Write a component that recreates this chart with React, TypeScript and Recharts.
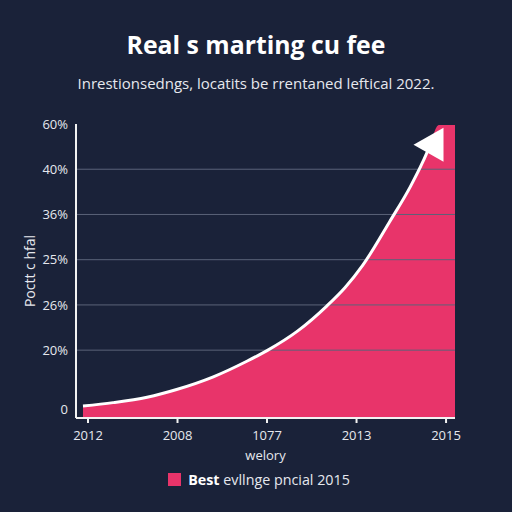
import React from 'react';
import { ComposedChart, Area, Line, XAxis, YAxis, ReferenceLine, ReferenceDot, Label } from 'recharts';

const xValues = [-0.056, 0.28, 0.66, 0.99, 1.4, 1.78, 2.0, 2.34, 2.67, 2.87, 3.07, 3.37, 3.6, 3.74, 3.8, 3.92, 4.1];
const areaValues = [2.65, 3.4, 4.6, 6.3, 9.1, 12.6, 14.9, 19.2, 24.8, 28.8, 33.8, 43.4, 51.1, 56.6, 59.3, 64.8, 64.8];
const lineValues = [2.65, 3.4, 4.6, 6.3, 9.1, 12.6, 14.9, 19.2, 24.8, 28.8, 33.8, 43.4, 51.1, 56.6, 59.3, null, null];

const xTickValues = [0, 1, 2, 3, 4];
const xTickLabels = ['2012', '2008', '1077', '2013', '2015'];
const yTickValues = [1.8, 15, 25, 35, 45, 55, 65];
const yTickLabels = ['0', '20%', '26%', '25%', '36%', '40%', '60%'];
const gridValues = [15, 25, 35, 45, 55];

const arrowPoint = { x: 3.86, y: 60.4 };

const BG = '#1a2239';
const PINK = '#e8346a';
const TEXT = '#e6e8ee';
const FONT = '"Open Sans", "DejaVu Sans", sans-serif';

const data = xValues.map((x, i) => ({ x, area: areaValues[i], line: lineValues[i] }));

const Arrow = (props: any) => {
  const { cx, cy } = props;
  if (cx == null || cy == null) return null;
  const pts = `${cx - 20},${cy} ${cx + 10},${cy - 17} ${cx + 10},${cy + 17}`;
  return <polygon points={pts} fill="#ffffff" />;
};

export default function App() {
  return (
    <div style={{ position: 'fixed', left: 0, top: 0, width: 512, height: 512, background: BG, fontFamily: FONT, overflow: 'hidden' }}>
      <div style={{ position: 'absolute', top: 27, left: 0, width: 512, textAlign: 'center', color: '#ffffff', fontWeight: 700, fontSize: 24.8, lineHeight: '34px' }}>
        Real s marting cu fee
      </div>
      <div style={{ position: 'absolute', top: 72, left: 0, width: 512, textAlign: 'center', color: TEXT, fontSize: 15, lineHeight: '22px' }}>
        Inrestionsedngs, locatits be rrentaned leftical 2022.
      </div>
      <div style={{ position: 'absolute', top: 0, left: 0 }}>
        <ComposedChart width={512} height={512} data={data} margin={{ top: 124, right: 57, bottom: 52, left: 0 }}>
          <XAxis
            dataKey="x"
            type="number"
            domain={[-0.134, 4.1]}
            allowDataOverflow
            ticks={xTickValues}
            tickFormatter={(v: number) => xTickLabels[xTickValues.indexOf(v)] ?? ''}
            height={42}
            stroke="#f2f2f2"
            strokeWidth={2}
            tickSize={5}
            tickMargin={8}
            tick={{ fill: TEXT, fontSize: 13, fontFamily: FONT }}
          >
            <Label value="welory" position="insideBottom" offset={0} fill={TEXT} fontSize={13} fontFamily={FONT} />
          </XAxis>
          <YAxis
            type="number"
            domain={[0, 65]}
            allowDataOverflow
            ticks={yTickValues}
            tickFormatter={(v: number) => yTickLabels[yTickValues.indexOf(v)] ?? ''}
            width={76}
            stroke="#f2f2f2"
            strokeWidth={2}
            tickLine={false}
            tick={{ fill: TEXT, fontSize: 13, fontFamily: FONT }}
          >
            <Label value="Poctt c hfal" angle={-90} position="insideLeft" offset={30} fill={TEXT} fontSize={14} fontFamily={FONT} style={{ textAnchor: 'middle' }} />
          </YAxis>
          {gridValues.map((v) => (
            <ReferenceLine key={v} y={v} stroke="#5a6379" strokeWidth={1} />
          ))}
          <Area type="monotone" dataKey="area" fill={PINK} fillOpacity={1} stroke="none" isAnimationActive={false} />
          <Line type="monotone" dataKey="line" stroke="#ffffff" strokeWidth={3} dot={false} isAnimationActive={false} />
          <ReferenceDot x={arrowPoint.x} y={arrowPoint.y} shape={Arrow} />
        </ComposedChart>
      </div>
      <div style={{ position: 'absolute', top: 470, left: 0, width: 518, display: 'flex', justifyContent: 'center', alignItems: 'center', color: TEXT, fontSize: 14.3 }}>
        <span style={{ display: 'inline-block', width: 13, height: 13, background: PINK, marginRight: 7 }} />
        <span><b style={{ color: '#fff' }}>Best</b> evllnge pncial 2015</span>
      </div>
    </div>
  );
}
